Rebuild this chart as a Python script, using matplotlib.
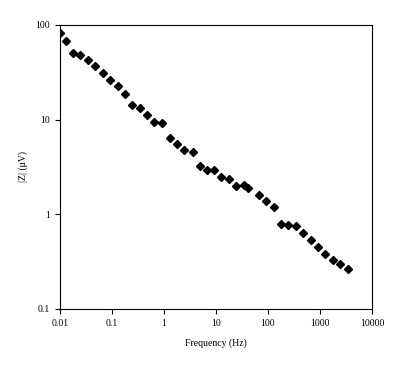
import matplotlib
matplotlib.use("Agg")
import matplotlib.pyplot as plt
from matplotlib.ticker import FixedLocator, FixedFormatter, NullLocator

# impedance magnitude vs frequency
freq = [0.01, 0.0129, 0.0178, 0.0243, 0.0341, 0.0471, 0.0662, 0.0927, 0.129, 0.178,
        0.245, 0.341, 0.478, 0.656, 0.908, 1.29, 1.78, 2.46, 3.6, 4.86,
        6.62, 9.16, 12.7, 17.5, 24.5, 34.5, 41.2, 67.1, 91.5, 130,
        178, 243, 345, 471, 671, 916, 1248, 1778, 2427, 3452]
z_mag = [81.7, 67.2, 50.9, 47.9, 43.0, 37.1, 31.1, 26.2, 22.7, 18.8,
         14.2, 13.4, 11.2, 9.38, 9.16, 6.45, 5.50, 4.79, 4.59, 3.27,
         2.94, 2.92, 2.48, 2.38, 2.01, 2.04, 1.90, 1.60, 1.38, 1.20,
         0.791, 0.78, 0.76, 0.635, 0.536, 0.452, 0.381, 0.330, 0.299, 0.265]

x_ticks = [0.01, 0.1, 1, 10, 100, 1000, 10000]
x_labels = ["0.01", "0.1", "1", "10", "100", "1000", "10000"]
y_ticks = [0.1, 1, 10, 100]
y_labels = ["0.1", "1", "10", "100"]

plt.rcParams['font.family'] = ['Liberation Serif', 'DejaVu Serif']
plt.rcParams['font.size'] = 7

fig = plt.figure(figsize=(4.02, 3.69), dpi=100)
ax = fig.add_axes([60 / 402, 1 - 309 / 369, 312 / 402, 284 / 369])

ax.plot(freq, z_mag, linestyle='none', marker='D', markersize=3.6, color='black')

ax.set_xscale('log')
ax.set_yscale('log')
ax.set_xlim(0.01, 10000)
ax.set_ylim(0.1, 100)

ax.xaxis.set_major_locator(FixedLocator(x_ticks))
ax.xaxis.set_major_formatter(FixedFormatter(x_labels))
ax.xaxis.set_minor_locator(NullLocator())
ax.yaxis.set_major_locator(FixedLocator(y_ticks))
ax.yaxis.set_major_formatter(FixedFormatter(y_labels))
ax.yaxis.set_minor_locator(NullLocator())
ax.tick_params(direction='out', length=3.5, width=0.8, pad=4, labelsize=7)

for s in ax.spines.values():
    s.set_linewidth(0.8)

ax.set_xlabel('Frequency (Hz)', fontsize=7, labelpad=7)
ax.set_ylabel('|Z| (μV)', fontsize=7, labelpad=5)

fig.savefig('out.png', dpi=100)
